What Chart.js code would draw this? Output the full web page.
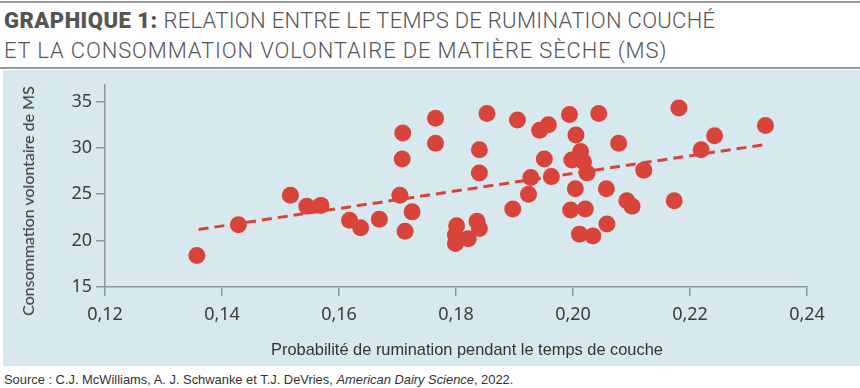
<!DOCTYPE html>
<html>
<head>
<meta charset="utf-8">
<script src="https://cdn.jsdelivr.net/npm/chart.js@4.4.1/dist/chart.umd.min.js"></script>
<style>
  body { margin: 0; width: 860px; height: 388px; background: #fff; position: relative; overflow: hidden; }
  .rule { position: absolute; left: 0; width: 860px; height: 2px; background: #9a9a9a; }
  .title { position: absolute; left: 4px; font-family: "Roboto", sans-serif; font-weight: 300;
           font-size: 22px; line-height: 30px; color: #555; white-space: nowrap; }
  .title b { font-weight: 900; color: #555; letter-spacing: 0.5px; }
  #panel { position: absolute; left: 3px; top: 70px; width: 857px; height: 296px; background: #d7e8ee; }
  #chartBox { position: absolute; left: 0; top: 0; width: 857px; height: 296px; }
  .xTitle { position: absolute; top: 339px; left: 467px; transform: translateX(-50%);
            font-family: "Liberation Sans", sans-serif; font-size: 16.4px; line-height: 20px; color: #333; white-space: nowrap; }
  .yTitle { position: absolute; left: 28px; top: 201px; transform: translate(-50%, -50%) rotate(-90deg);
            font-family: "Lato", sans-serif; font-size: 16px; line-height: 18px; color: #333; white-space: nowrap; }
  .source { position: absolute; left: 4px; top: 372px; font-family: "Liberation Sans", sans-serif;
            font-size: 12.9px; line-height: 16px; color: #333; white-space: nowrap; }
</style>
</head>
<body>
<div class="rule" style="top:1px"></div>
<div class="title" style="top:6px; letter-spacing:0.3px"><b>GRAPHIQUE 1:</b> RELATION ENTRE LE TEMPS DE RUMINATION COUCHÉ</div>
<div class="title" style="top:36px; letter-spacing:0.85px">ET LA CONSOMMATION VOLONTAIRE DE MATIÈRE SÈCHE (MS)</div>
<div class="rule" style="top:67px"></div>
<div id="panel"><div id="chartBox"><canvas id="myChart"></canvas></div></div>
<div class="yTitle">Consommation volontaire de MS</div>
<div class="xTitle">Probabilité de rumination pendant le temps de couche</div>
<div class="source">Source : C.J. McWilliams, A. J. Schwanke et T.J. DeVries, <i>American Dairy Science</i>, 2022.</div>

<script>
// probabilité de rumination couché (x) et consommation de MS (y)
const ruminationX = [
  0.1357, 0.1428, 0.1517, 0.1545, 0.1569, 0.1618, 0.1637, 0.1669, 0.1704, 0.1709,
  0.1708, 0.1725, 0.1713, 0.1765, 0.1765, 0.1801, 0.1799, 0.1799, 0.1821, 0.1840,
  0.1836, 0.1840, 0.1840, 0.1853, 0.1905, 0.1897, 0.1924, 0.1928, 0.1943, 0.1958,
  0.1951, 0.1963, 0.1994, 0.2044, 0.2005, 0.2013, 0.1998, 0.2018, 0.2024, 0.2004,
  0.2057, 0.2078, 0.1996, 0.2021, 0.2011, 0.2034, 0.2058, 0.2092, 0.2101, 0.2121,
  0.2173, 0.2181, 0.2219, 0.2242, 0.2329,
];
const consommationMS = [
  18.4, 21.7, 24.9, 23.7, 23.8, 22.2, 21.4, 22.3, 24.9, 31.6,
  28.8, 23.1, 21.0, 33.2, 30.5, 21.6, 20.6, 19.7, 20.2, 21.3,
  22.1, 29.8, 27.3, 33.7, 33.0, 23.4, 25.0, 26.8, 31.9, 32.5,
  28.8, 26.9, 33.6, 33.7, 31.4, 29.6, 28.7, 28.5, 27.3, 25.6,
  25.6, 30.5, 23.3, 23.4, 20.7, 20.5, 21.8, 24.3, 23.7, 27.6,
  24.3, 34.3, 29.8, 31.3, 32.4,
];
// droite de tendance (extrémités)
const trendX = [0.1360, 0.2333];
const trendY = [21.2, 30.4];

const xTicks = [0.12, 0.14, 0.16, 0.18, 0.20, 0.22, 0.24];
const yTicks = [15, 20, 25, 30, 35];

const RED = "#d9443a";
const AXIS = "#8d969b";
const TICK_FONT = { family: "Noto Sans", size: 18 };

const ctx = document.getElementById("myChart").getContext("2d");

new Chart(ctx, {
  data: {
    datasets: [
      {
        type: "line",
        data: trendX.map((x, i) => ({ x: x, y: trendY[i] })),
        borderColor: RED,
        borderWidth: 3,
        borderDash: [10, 6],
        pointRadius: 0,
        fill: false,
        order: 2,
      },
      {
        type: "scatter",
        data: ruminationX.map((x, i) => ({ x: x, y: consommationMS[i] })),
        backgroundColor: RED,
        borderWidth: 0,
        pointRadius: 8.5,
        pointHoverRadius: 8.5,
        order: 1,
      },
    ],
  },
  options: {
    responsive: true,
    maintainAspectRatio: false,
    animation: false,
    layout: { padding: { left: 14, right: 53, top: 12, bottom: 0 } },
    plugins: { legend: { display: false }, tooltip: { enabled: false } },
    scales: {
      x: {
        type: "linear",
        min: 0.12,
        max: 0.24,
        afterBuildTicks: (scale) => {
          scale.ticks = xTicks.map((v) => ({ value: v }));
        },
        afterFit: (scale) => {
          scale.height = 79;
        },
        ticks: {
          font: TICK_FONT,
          color: "#3c3c3c",
          padding: 8,
          callback: (v) => Number(v).toFixed(2).replace(".", ","),
        },
        grid: { drawOnChartArea: false, drawTicks: true, tickLength: 9, color: AXIS, lineWidth: 1.5 },
        border: { color: AXIS, width: 1.5 },
      },
      y: {
        type: "linear",
        min: 15,
        max: 36.8,
        afterBuildTicks: (scale) => {
          scale.ticks = yTicks.map((v) => ({ value: v }));
        },
        afterFit: (scale) => {
          scale.width = 88;
        },
        ticks: { font: TICK_FONT, color: "#3c3c3c", padding: 4 },
        grid: { drawOnChartArea: false, drawTicks: true, tickLength: 9, color: AXIS, lineWidth: 1.5 },
        border: { color: AXIS, width: 1.5 },
      },
    },
  },
});
</script>
</body>
</html>
